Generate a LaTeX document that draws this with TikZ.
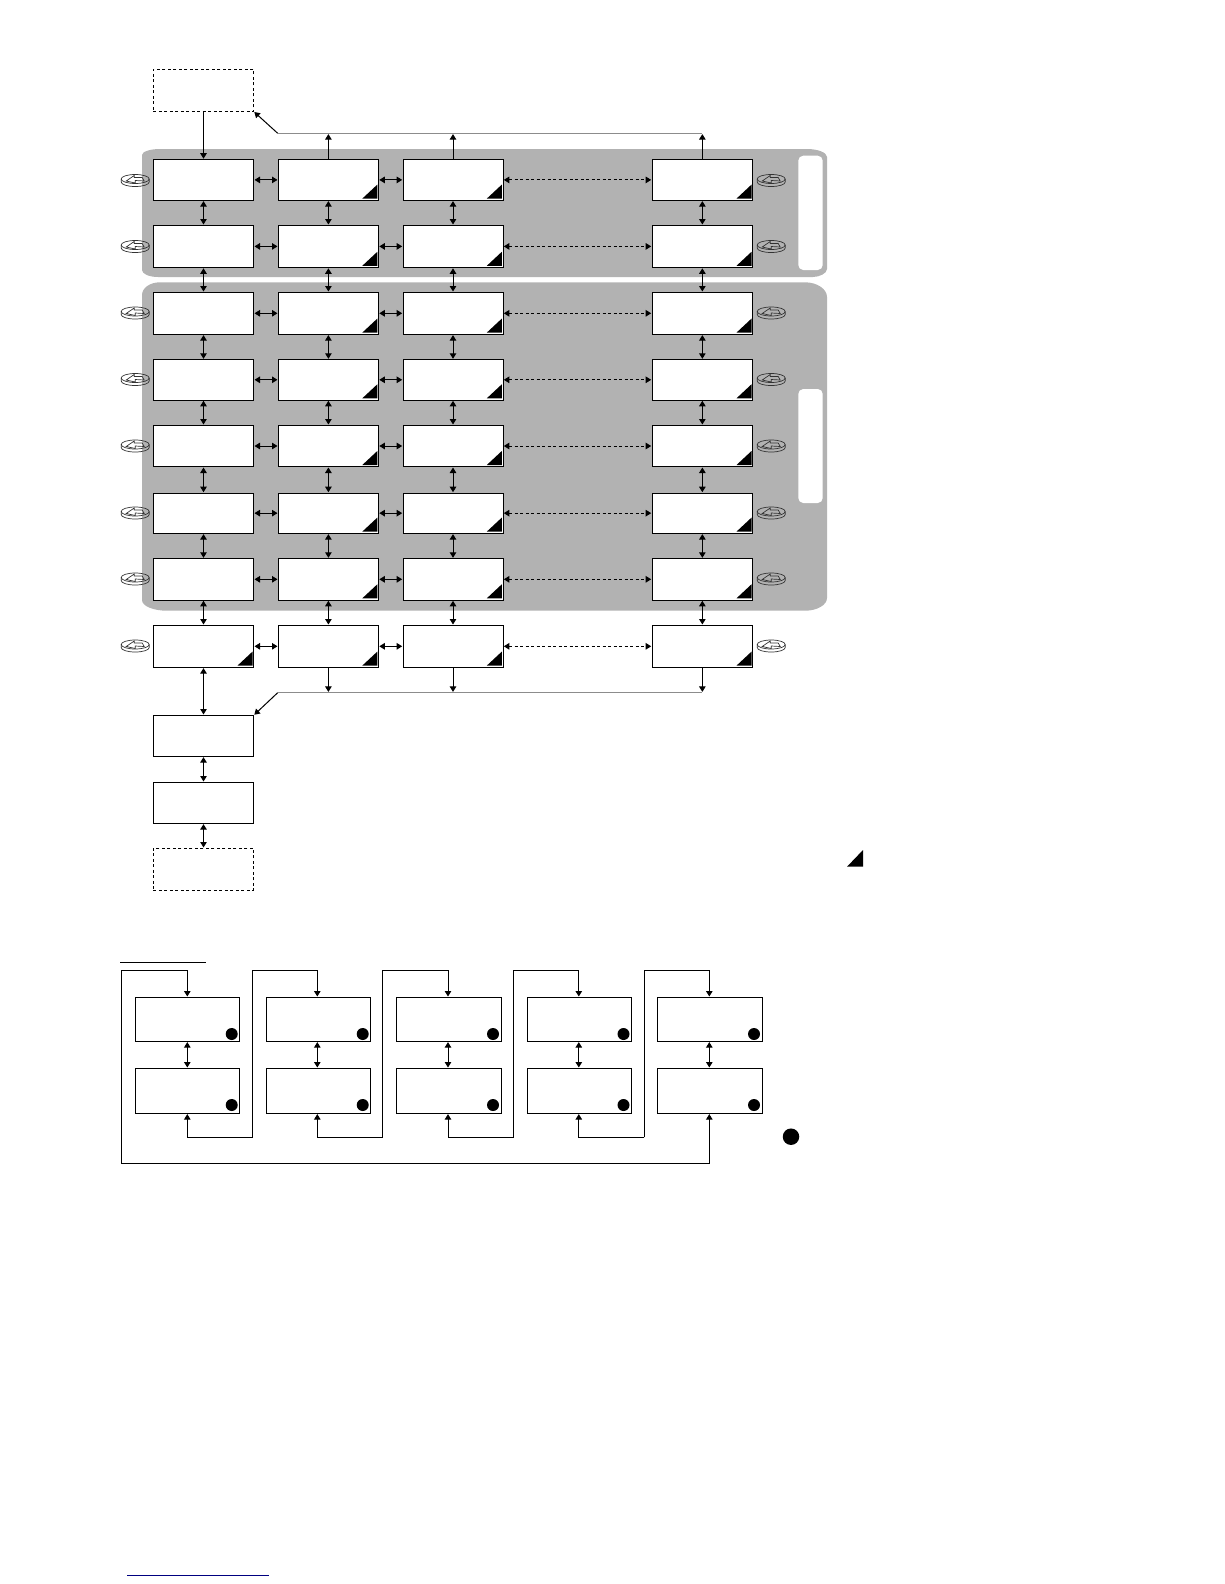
\documentclass[tikz,border=0pt]{standalone}
\usetikzlibrary{arrows.meta}
\definecolor{panelgray}{HTML}{B2B2B2}
\definecolor{busgray}{HTML}{8C8C8C}
\definecolor{linkblue}{HTML}{000080}
\tikzset{
  boxs/.style={draw=black,fill=white,line width=1pt,inner sep=0pt,outer sep=0pt},
  dashbox/.style={boxs,dash pattern=on 3pt off 2.5pt},
  panel/.style={fill=panelgray,draw=none},
  strip/.style={fill=white,draw=none,rounded corners=5pt},
  dbl/.style={{Triangle[length=5.5pt,width=6.5pt]}-{Triangle[length=5.5pt,width=6.5pt]},line width=1pt,shorten <=0.8pt,shorten >=0.8pt},
  dbldash/.style={dbl,dash pattern=on 3pt off 2.5pt},
  sgl/.style={-{Triangle[length=5.5pt,width=6.5pt]},line width=1pt,shorten >=0.8pt},
  plain/.style={line width=1pt},
  bus/.style={draw=busgray,line width=1pt},
  mark tri/.style={fill=black,draw=none},
  dot/.style={circle,fill=black,draw=none,minimum size=12pt,inner sep=0pt},
}
\newcommand{\bx}[6]{\node[#2,minimum width={(#5-#3)*1pt},minimum height={(#6-#4)*1pt}] (#1) at ({(#3+#5)/2},{(#4+#6)/2}) {};}
\newcommand{\trimark}[1]{%
  \fill[black] ([shift={(-16.2pt,1.7pt)}]#1.south east) -- ++(15pt,0) -- ++(0,14pt) -- cycle;}
\newcommand{\disk}[2]{%
  \begin{scope}[shift={(#1,#2)},line width=0.7pt,draw=black!80]
    \draw (-14,-1) -- (-14,2) .. controls (-14,4.5) and (-8,6.5) .. (0,6.5) .. controls (8,6.5) and (14,4.5) .. (14,2) -- (14,-1);
    \draw (0,-1) ellipse[x radius=14pt,y radius=4.5pt];
    \draw (-9,1) -- (-1,-4.5) -- (-1,-2.5) -- (7,-2.5) -- (9,1) -- (0,0.5) -- (0,3) -- cycle;
  \end{scope}}
\begin{document}
\begin{tikzpicture}[x=1pt,y=-1pt]
\useasboundingbox (0,0) rectangle (1224,1584);
% panels
\fill[panel] (142,155) .. controls (142,151.7) and (150,149) .. (160,149) -- (807,149) .. controls (818,149) and (827,152.6) .. (827,157) -- (827,269) .. controls (827,273.4) and (819.3,277) .. (813,277) -- (158,277) .. controls (149.2,277) and (142,273.9) .. (142,270) -- cycle;
\fill[panel] (142,295) .. controls (142,288) and (150,282.3) .. (160,282.3) -- (805,282.3) .. controls (817,282.3) and (827,289) .. (827,297) -- (827,598) .. controls (827,605) and (817,610.7) .. (805,610.7) -- (167,610.7) .. controls (153,610.7) and (142,606) .. (142,600) -- cycle;
\fill[strip] (798.3,155.7) rectangle (822.7,270);
\fill[strip] (798.3,389) rectangle (822.7,503);
% boxes of the grid
\foreach \c/\xa/\xb in {1/153.3/253.7,2/278.3/378.5,3/403/503,4/652/752.7}{
  \foreach \r/\ya/\yb in {1/159.5/200.3,2/225.3/267.5,3/292.3/334.3,4/359.6/400,5/425.3/466.7,6/493/533.3,7/558.6/600,8/625.3/667.3}{
    \bx{c\c r\r}{boxs}{\xa}{\ya}{\xb}{\yb}
  }
}
\bx{top}{dashbox}{153.3}{69.3}{253.7}{111.5}
\bx{mida}{boxs}{153.3}{715.3}{253.7}{756.3}
\bx{midb}{boxs}{153.3}{782.3}{253.7}{823.3}
\bx{bot}{dashbox}{153.3}{848.3}{253.7}{890}
% triangle marks
\foreach \c in {2,3,4}{\foreach \r in {1,...,8}{\trimark{c\c r\r}}}
\trimark{c1r8}
\fill[mark tri] (847,866.7) -- (863,866.7) -- (863,850) -- cycle;
% disk icons
\foreach \y in {180,246,312.5,379,445.5,512.5,578.5,645.5}{\disk{135.2}{\y}\disk{771.2}{\y}}
% vertical links
\foreach \c in {1,2,3,4}{
  \foreach \a/\b in {1/2,2/3,3/4,4/5,5/6,6/7,7/8}{\draw[dbl] (c\c r\a.south) -- (c\c r\b.north);}
}
% horizontal links
\foreach \r in {1,...,8}{
  \draw[dbl] (c1r\r.east) -- (c2r\r.west);
  \draw[dbl] (c2r\r.east) -- (c3r\r.west);
  \draw[dbldash] (c3r\r.east) -- (c4r\r.west);
}
\draw[sgl] (top.south) -- (c1r1.north);
\draw[dbl] (c1r8.south) -- (mida.north);
\draw[dbl] (mida.south) -- (midb.north);
\draw[dbl] (midb.south) -- (bot.north);
% upper bus
\coordinate (ubl) at (277.7,133.3);
\coordinate (ubr) at (702.4,133.3);
\draw[bus] (ubl) -- (ubr);
\draw[sgl] (ubl) -- (top.south east);
\foreach \c in {2,3,4}{\draw[sgl] (c\c r1.north) -- (c\c r1.north |- ubl);}
% lower bus
\coordinate (lbl) at (277.7,692.7);
\coordinate (lbr) at (702.4,692.7);
\draw[bus] (lbl) -- (lbr);
\draw[sgl] (lbl) -- (mida.north east);
\foreach \c in {2,3,4}{\draw[sgl] (c\c r8.south) -- (c\c r8.south |- lbl);}
% lower diagram
\coordinate (ula) at (120,962.3);
\coordinate (ulb) at (206,962.3);
\draw[plain] (ula) -- (ulb);
\foreach \n/\xa/\xb in {1/135.3/239.3,2/266.3/370.3,3/396.3/501.5,4/527.3/631.8,5/657.3/762.7}{
  \bx{p\n}{boxs}{\xa}{997.3}{\xb}{1041.3}
  \bx{q\n}{boxs}{\xa}{1068.3}{\xb}{1113.3}
}
\foreach \n/\cx/\tx in {1/231.7/187.3,2/362.7/317.3,3/493/448,4/623.5/578.8,5/754/709.3}{
  \node[dot] (dp\n) at (\cx,1034) {};
  \node[dot] (dq\n) at (\cx,1105) {};
  \coordinate (tp\n) at (\tx,997.3);
  \coordinate (bq\n) at (\tx,1113.3);
  \coordinate (mp\n) at (\tx,1041.3);
  \coordinate (mq\n) at (\tx,1068.3);
  \draw[dbl] (mp\n) -- (mq\n);
}
\node[dot,minimum size=16.5pt] (legdot) at (791,1136.7) {};
% loops
\coordinate (l0t) at (121.7,970.3);
\draw[sgl] (121.7,1163.6) -- (l0t) -- (tp1 |- l0t) -- (tp1);
\foreach \a/\b/\xr in {1/2/252.7,2/3/382.7,3/4/513.5,4/5/644.3}{
  \coordinate (rb\a) at (\xr,1137.3);
  \coordinate (rt\a) at (\xr,970.3);
  \draw[sgl] (rb\a) -- (bq\a |- rb\a) -- (bq\a);
  \draw[sgl] (rb\a) -- (rt\a) -- (tp\b |- rt\a) -- (tp\b);
}
\coordinate (bigb) at (121.7,1163.6);
\draw[sgl] (bigb) -- (bq5 |- bigb) -- (bq5);
% blue rule at page foot
\coordinate (bla) at (127,1575);
\coordinate (blb) at (269,1575);
\draw[linkblue,line width=1pt] (bla) -- (blb);
\end{tikzpicture}
\end{document}
